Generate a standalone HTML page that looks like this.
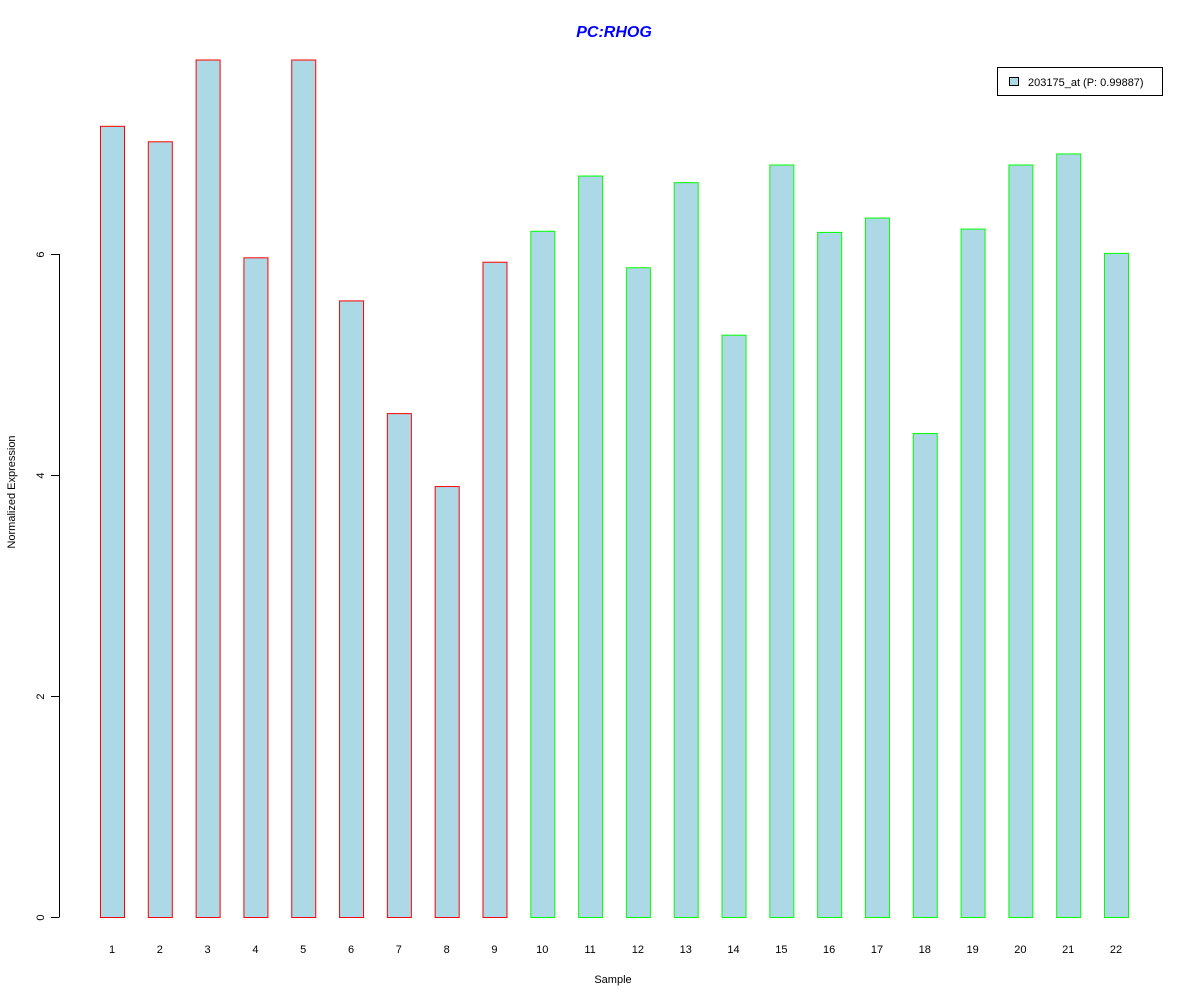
<!DOCTYPE html>
<html><head><meta charset="utf-8"><style>
html,body{margin:0;padding:0;background:#fff;}
svg{display:block;font-family:"Liberation Sans",Arial,sans-serif;}
</style></head><body>
<svg id="chart" width="1200" height="1000" viewBox="0 0 1200 1000">
<text x="614" y="37" text-anchor="middle" font-size="16" font-weight="bold" font-style="italic" fill="#0000ff">PC:RHOG</text>
<text transform="translate(15,492) rotate(-90)" text-anchor="middle" font-size="11">Normalized Expression</text>
<text x="613" y="983" text-anchor="middle" font-size="11">Sample</text>
<g id="bars"></g>
<g id="yaxis"></g>
<g id="xlabels"></g>
<g>
<rect x="997.5" y="67.5" width="165" height="28" fill="#fff" stroke="#000"/>
<rect x="1009.5" y="77.5" width="9" height="8" fill="#add8e6" stroke="#000"/>
<text x="1028" y="86" font-size="11">203175_at (P: 0.99887)</text>
</g>
</svg>
<script>
const categories = ["1","2","3","4","5","6","7","8","9","10","11","12","13","14","15","16","17","18","19","20","21","22"];
const values = [7.16,7.02,7.76,5.97,7.76,5.58,4.56,3.90,5.93,6.21,6.71,5.88,6.65,5.27,6.81,6.20,6.33,4.38,6.23,6.81,6.91,6.01];
const groups = ["a","a","a","a","a","a","a","a","a","b","b","b","b","b","b","b","b","b","b","b","b","b"];
const yTicks = [0,2,4,6];
const NS="http://www.w3.org/2000/svg";
const yScale = v => 917 - v*110.5;
const xScale = i => 112 + i*47.81;
const gB=document.getElementById('bars'), gY=document.getElementById('yaxis'), gX=document.getElementById('xlabels');
function mk(tag,attrs,parent){const e=document.createElementNS(NS,tag);for(const k in attrs)e.setAttribute(k,attrs[k]);parent.appendChild(e);return e;}
values.forEach((v,i)=>{
  const cx=xScale(i), top=yScale(v);
  const r=mk('rect',{x:cx-12+0.5,y:top+0.5,width:24,height:yScale(0)-top,fill:'#add8e6',stroke:groups[i]==='a'?'#ff0000':'#00ff00'},gB);
  
  
  const t=mk('text',{x:cx,y:953,'text-anchor':'middle','font-size':'11'},gX);
  t.textContent=categories[i];
  
  
});
mk('line',{x1:59.5,x2:59.5,y1:yScale(yTicks[0]),y2:yScale(yTicks[yTicks.length-1]),stroke:'#000'},gY);
yTicks.forEach(v=>{
  const y=Math.round(yScale(v))+0.5;
  mk('line',{x1:51,x2:59.5,y1:y,y2:y,stroke:'#000'},gY);
  const t=mk('text',{transform:`translate(44,${y}) rotate(-90)`,'text-anchor':'middle','font-size':'11'},gY);
  t.textContent=String(v);
  
  
});
</script>
</body></html>
